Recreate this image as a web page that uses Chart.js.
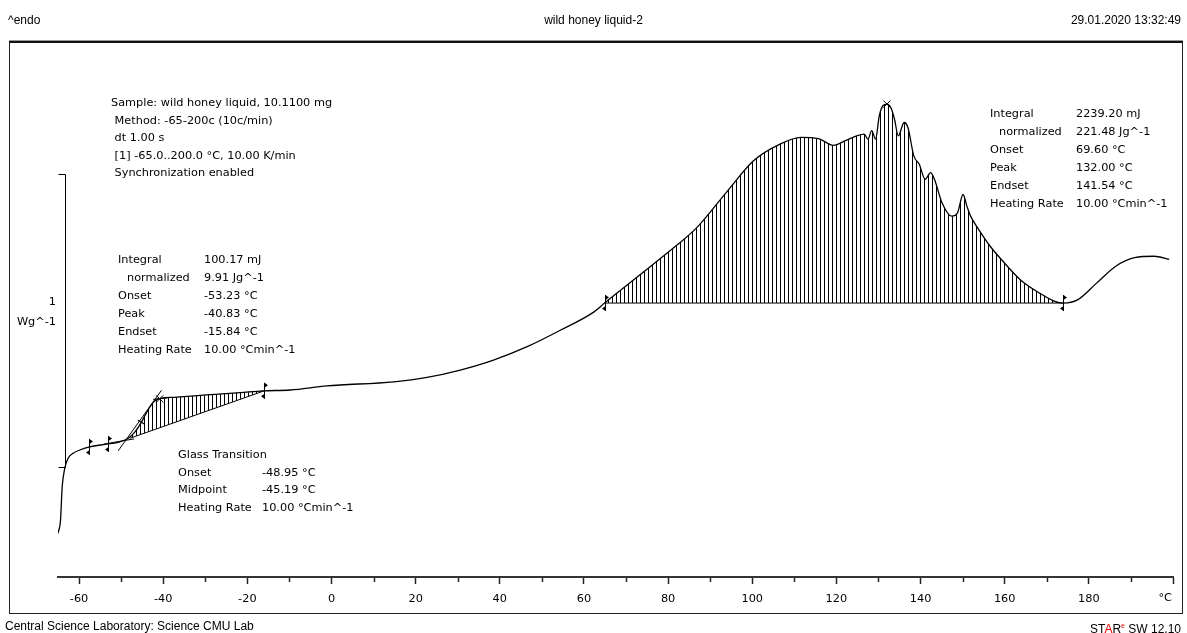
<!DOCTYPE html>
<html><head><meta charset="utf-8">
<script src="https://cdn.jsdelivr.net/npm/chart.js@4.4.1/dist/chart.umd.min.js"></script>
<style>
html,body{margin:0;padding:0;background:#fff;}
body{width:1187px;height:633px;position:relative;overflow:hidden;font-family:"DejaVu Sans",sans-serif;color:#000;}
#frame{position:absolute;left:9px;top:41px;width:1172px;height:570px;border:1px solid #222;border-top:2px solid #111;box-shadow:0 -1px 0 #999;}
#c{position:absolute;left:0;top:0;}
.hdr{position:absolute;font-family:"Liberation Sans",Arial,sans-serif;font-size:12px;line-height:14px;white-space:pre;}
.txt{position:absolute;font-size:11.3px;line-height:18px;white-space:pre;}
.blk{position:absolute;font-size:11.3px;}
.blk div{height:18px;line-height:18px;white-space:pre;}
.blk.s div{height:17.6px;line-height:17.6px;}
</style>
</head><body>
<div id="frame"></div>
<canvas id="c" width="1187" height="633"></canvas>

<div class="hdr" style="left:8px;top:13px;">^endo</div>
<div class="hdr" style="left:0;width:1187px;text-align:center;top:13px;">wild honey liquid-2</div>
<div class="hdr" style="right:6px;top:13px;">29.01.2020 13:32:49</div>
<div class="hdr" style="left:5px;top:619px;">Central Science Laboratory: Science CMU Lab</div>
<div class="hdr" style="right:6px;top:619px;">ST<span style="color:#e00000">A</span>R<sup style="color:#e00000;font-size:7px;">e</sup> SW 12.10</div>

<div class="blk s" style="left:111px;top:94px;"><div>Sample: wild honey liquid, 10.1100 mg</div><div> Method: -65-200c (10c/min)</div><div> dt 1.00 s</div><div> [1] -65.0..200.0 °C, 10.00 K/min</div><div> Synchronization enabled</div></div>

<div class="blk" style="left:118px;top:251px;"><div>Integral</div><div style="padding-left:9px">normalized</div><div>Onset</div><div>Peak</div><div>Endset</div><div>Heating Rate</div></div>
<div class="blk" style="left:204px;top:251px;"><div>100.17 mJ</div><div>9.91 Jg^-1</div><div>-53.23 °C</div><div>-40.83 °C</div><div>-15.84 °C</div><div>10.00 °Cmin^-1</div></div>

<div class="blk" style="left:990px;top:105px;"><div>Integral</div><div style="padding-left:9px">normalized</div><div>Onset</div><div>Peak</div><div>Endset</div><div>Heating Rate</div></div>
<div class="blk" style="left:1076px;top:105px;"><div>2239.20 mJ</div><div>221.48 Jg^-1</div><div>69.60 °C</div><div>132.00 °C</div><div>141.54 °C</div><div>10.00 °Cmin^-1</div></div>

<div class="blk s" style="left:178px;top:446px;"><div>Glass Transition</div><div>Onset</div><div>Midpoint</div><div>Heating Rate</div></div>
<div class="blk s" style="left:262px;top:463.6px;"><div>-48.95 °C</div><div>-45.19 °C</div><div>10.00 °Cmin^-1</div></div>

<div class="txt" style="right:1131px;top:293px;text-align:right;">1</div>
<div class="txt" style="right:1131px;top:313px;text-align:right;">Wg^-1</div>
<div class="txt" style="right:15px;top:589px;text-align:right;">°C</div>

<script>
// ---- data (temperature in °C, heat flow in W/g, arbitrary zero) ----
const temperatures = [-65.0,-64.4,-64.0,-63.4,-62.6,-61.4,-59.8,-57.5,-53.5,-50.3,-48.3,-46.7,-45.1,-43.6,-42.0,-40.4,-37.6,-29.7,-21.7,-16.3,-9.8,-1.1,14.8,22.7,30.6,38.5,46.5,54.5,62.4,64.9,73.1,82.1,86.7,93.9,100.3,106.6,111.6,115.7,119.3,122.0,124.8,126.6,127.5,128.4,129.3,130.2,131.1,132.0,132.9,133.8,134.7,136.1,137.0,138.4,139.7,141.1,142.4,143.3,145.1,147.4,148.8,150.1,151.0,151.9,153.8,156.5,159.2,163.7,168.3,171.9,173.9,177.3,181.9,186.4,190.9,195.5,199.1];
const heatFlow = [0.149,0.195,0.309,0.371,0.406,0.423,0.434,0.445,0.454,0.462,0.474,0.496,0.531,0.571,0.602,0.611,0.614,0.622,0.630,0.636,0.639,0.653,0.667,0.682,0.707,0.741,0.787,0.844,0.906,0.936,1.030,1.134,1.192,1.315,1.422,1.479,1.502,1.498,1.475,1.490,1.507,1.513,1.496,1.525,1.496,1.576,1.611,1.616,1.605,1.565,1.507,1.553,1.536,1.439,1.410,1.359,1.382,1.359,1.279,1.233,1.245,1.307,1.268,1.233,1.188,1.131,1.085,1.016,0.970,0.942,0.936,0.947,1.005,1.062,1.091,1.096,1.085];

// integration baselines (glass step, main peak)
const glassBaselineT = [-47.9, -16.0];
const glassBaselineV = [0.474, 0.636];
const peakBaselineT = [64.9, 173.9];
const peakBaselineV = [0.936, 0.936];

// glass transition construction lines
const tangentLowT = [-54.2, -46.9];
const tangentLowV = [0.454, 0.472];
const tangentSteepT = [-50.7, -40.4];
const tangentSteepV = [0.431, 0.638];
const tangentUpperT = [-42.4, -38.4];
const tangentUpperV = [0.607, 0.613];

// evaluation markers
const limitTemps = [-57.6, -53.2, -16.0, 64.9, 173.9];
const peakTemps = [-40.83, 132.0];
const midpointTemps = [-45.19];

// axis
const xMin = -65, xMax = 200, xStep = 10, xLabelStep = 20, xFirstTick = -60;
const yMin = 0, yMax = 1.828;
const scaleBarT = -63.4;
const scaleBarV = [0.377, 1.377];

function interp(t){
  for (let i = 0; i < temperatures.length - 1; i++){
    const a = temperatures[i], b = temperatures[i+1];
    if (t >= a && t <= b){ const f = (t - a) / (b - a); return heatFlow[i] + f * (heatFlow[i+1] - heatFlow[i]); }
  }
  return heatFlow[heatFlow.length - 1];
}
const pts = (T, V) => T.map((t, i) => ({x: t, y: V[i]}));

// vertical hatch pattern
const pc = document.createElement('canvas'); pc.width = 4; pc.height = 4;
const pctx = pc.getContext('2d'); pctx.fillStyle = '#000'; pctx.fillRect(0, 0, 1, 4);
const hatch = document.getElementById('c').getContext('2d').createPattern(pc, 'repeat');

const baselineData = pts(glassBaselineT, glassBaselineV)
  .concat([{x: (glassBaselineT[1] + peakBaselineT[0]) / 2, y: null}])
  .concat(pts(peakBaselineT, peakBaselineV));

const extras = {
  id: 'extras',
  afterDatasetsDraw(chart){
    const {ctx, scales: {x, y}} = chart;
    ctx.save();
    ctx.strokeStyle = '#000'; ctx.fillStyle = '#000'; ctx.lineWidth = 1;
    for (const t of limitTemps){
      const px = Math.round(x.getPixelForValue(t)) + 0.5;
      const py = y.getPixelForValue(interp(t));
      ctx.beginPath(); ctx.moveTo(px, py - 8); ctx.lineTo(px, py + 8); ctx.stroke();
      ctx.beginPath(); ctx.moveTo(px, py - 8); ctx.lineTo(px + 3.5, py - 5.5); ctx.lineTo(px, py - 3); ctx.closePath(); ctx.fill();
      ctx.beginPath(); ctx.moveTo(px, py + 8); ctx.lineTo(px - 3.5, py + 5.5); ctx.lineTo(px, py + 3); ctx.closePath(); ctx.fill();
    }
    // 1 W/g scale bar
    const bx = Math.round(x.getPixelForValue(scaleBarT)) + 0.5;
    const b0 = Math.round(y.getPixelForValue(scaleBarV[0])) + 0.5;
    const b1 = Math.round(y.getPixelForValue(scaleBarV[1])) + 0.5;
    ctx.beginPath(); ctx.moveTo(bx - 7, b1); ctx.lineTo(bx, b1); ctx.lineTo(bx, b0); ctx.lineTo(bx - 7, b0); ctx.stroke();
    // minor ticks
    ctx.lineWidth = 1.5; ctx.strokeStyle = '#222';
    for (const tk of x.ticks){
      if (tk.value % xLabelStep !== 0 && tk.value !== xMax){
        const px = Math.round(x.getPixelForValue(tk.value)) + 0.5;
        ctx.beginPath(); ctx.moveTo(px, x.top + 1); ctx.lineTo(px, x.top + 5); ctx.stroke();
      }
    }
    ctx.restore();
  }
};

new Chart(document.getElementById('c'), {
  type: 'line',
  data: {
    datasets: [
      { data: pts(temperatures, heatFlow), borderColor: '#000', borderWidth: 1.3, pointRadius: 0,
        cubicInterpolationMode: 'monotone', fill: {target: 1}, backgroundColor: hatch },
      { data: baselineData, borderColor: '#000', borderWidth: 1, pointRadius: 0, fill: false, spanGaps: false },
      { data: pts(tangentLowT, tangentLowV), borderColor: '#000', borderWidth: 1, pointRadius: 0, fill: false },
      { data: pts(tangentSteepT, tangentSteepV), borderColor: '#000', borderWidth: 1, pointRadius: 0, fill: false },
      { data: pts(tangentUpperT, tangentUpperV), borderColor: '#000', borderWidth: 1, pointRadius: 0, fill: false },
      { data: peakTemps.map(t => ({x: t, y: interp(t)})), showLine: false, pointStyle: 'crossRot',
        pointRadius: 5, borderColor: '#000', borderWidth: 1, backgroundColor: '#000' },
      { data: midpointTemps.map(t => ({x: t, y: interp(t)})), showLine: false, pointStyle: 'line', rotation: 30,
        pointRadius: 4, borderColor: '#000', borderWidth: 1.2 }
    ]
  },
  options: {
    responsive: false, animation: false, devicePixelRatio: 1, events: [],
    layout: { padding: { left: 58, right: 14, top: 42, bottom: 16 } },
    plugins: { legend: { display: false }, tooltip: { enabled: false } },
    scales: {
      x: {
        type: 'linear', min: xMin, max: xMax,
        afterBuildTicks: s => {
          const t = [];
          for (let v = xFirstTick; v <= xMax; v += xStep) t.push({value: v});
          s.ticks = t;
        },
        afterFit: s => { s.height = 40; },
        border: { display: true, color: '#333', width: 2 },
        grid: { drawOnChartArea: false, drawTicks: true, tickLength: 7, tickWidth: 1.5,
          tickColor: c => (c.tick && (c.tick.value % xLabelStep === 0 || c.tick.value === xMax)) ? '#222' : 'rgba(0,0,0,0)' },
        ticks: { stepSize: xStep, autoSkip: false, maxRotation: 0, padding: 8, color: '#000',
          font: { family: 'DejaVu Sans', size: 11.3 },
          callback: v => (v % xLabelStep === 0 && v !== xMax) ? String(v) : '' }
      },
      y: { type: 'linear', display: false, min: yMin, max: yMax }
    }
  },
  plugins: [extras]
});
</script>
</body></html>
